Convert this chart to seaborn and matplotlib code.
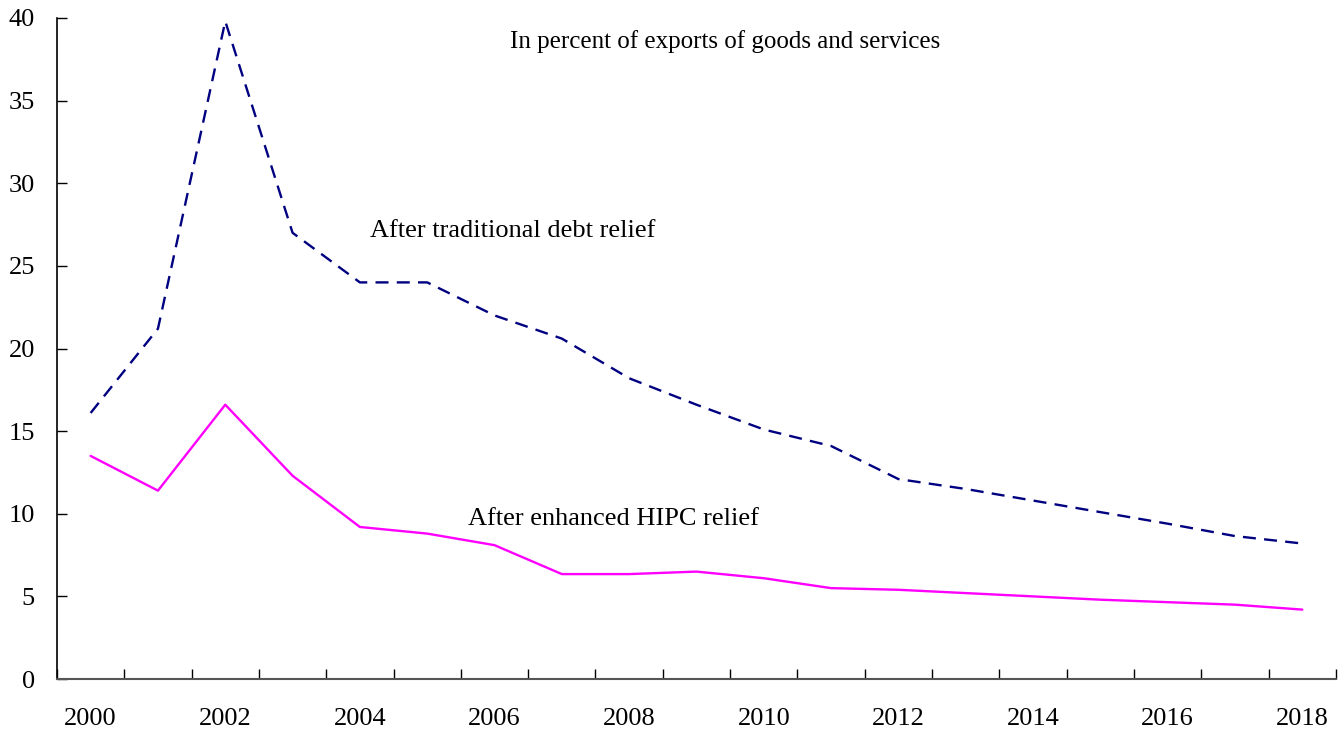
import matplotlib
matplotlib.use("Agg")
import matplotlib.pyplot as plt
import numpy as np
import pandas as pd
import seaborn as sns

# data
years = list(range(2000, 2019))
traditional = [16.1, 21.2, 39.8, 27.0, 24.0, 24.0, 22.0, 20.6, 18.2, 16.6,
               15.1, 14.1, 12.1, 11.5, 10.8, 10.1, 9.4, 8.65, 8.2]
enhanced = [13.5, 11.4, 16.6, 12.3, 9.2, 8.8, 8.1, 6.35, 6.35, 6.5,
            6.1, 5.5, 5.4, 5.2, 5.0, 4.8, 4.65, 4.5, 4.2]
tick_years = list(range(2000, 2019, 2))
y_ticks = [0, 5, 10, 15, 20, 25, 30, 35, 40]

df = pd.DataFrame({
    "year": years * 2,
    "value": traditional + enhanced,
    "series": ["traditional"] * len(years) + ["enhanced"] * len(years),
})

sns.set_style("white")
plt.rcParams["font.family"] = ["Liberation Serif", "DejaVu Serif"]
plt.rcParams["text.color"] = "black"
plt.rcParams["xtick.color"] = "black"
plt.rcParams["ytick.color"] = "black"

fig = plt.figure(figsize=(13.44, 7.31), dpi=100)
ax = fig.add_axes([0.0424, 0.0711, 0.9516, 0.9043])

sns.lineplot(data=df[df.series == "traditional"], x="year", y="value",
             color="#000080", linewidth=1.7, ax=ax)
ax.lines[-1].set_linestyle((0, (5.5, 3.5)))
sns.lineplot(data=df[df.series == "enhanced"], x="year", y="value",
             color="#FF00FF", linewidth=1.7, ax=ax)

ax.set_xlim(1999.5, 2018.5)
ax.set_ylim(0, 40)
ax.set_xlabel("")
ax.set_ylabel("")

# category-style axis: ticks at boundaries, labels at every other year
ax.set_xticks(np.arange(1999.5, 2019.0, 1.0))
ax.set_xticklabels([])
ax.set_xticks(tick_years, minor=True)
ax.set_xticklabels([str(y) for y in tick_years], minor=True, fontsize=19)
ax.tick_params(axis="x", which="major", direction="in", length=7, width=1,
               color="black", bottom=True)
ax.tick_params(axis="x", which="minor", length=0, pad=21)

ax.set_yticks(y_ticks)
ax.set_yticklabels([str(v) for v in y_ticks], fontsize=19)
ax.tick_params(axis="y", direction="in", length=7, width=1, color="black",
               left=True, pad=16)

for s in ["top", "right"]:
    ax.spines[s].set_visible(False)
ax.spines["left"].set_color("black")
ax.spines["bottom"].set_color("#555555")
ax.spines["left"].set_linewidth(1.2)
ax.spines["bottom"].set_linewidth(1.5)

ax.text(2009.43, 38.6, "In percent of exports of goods and services",
        ha="center", va="center", fontsize=18)
ax.text(2006.27, 27.1, "After traditional debt relief",
        ha="center", va="center", fontsize=19)
ax.text(2007.76, 9.7, "After enhanced HIPC relief",
        ha="center", va="center", fontsize=19)

fig.savefig("out.png", dpi=100)
